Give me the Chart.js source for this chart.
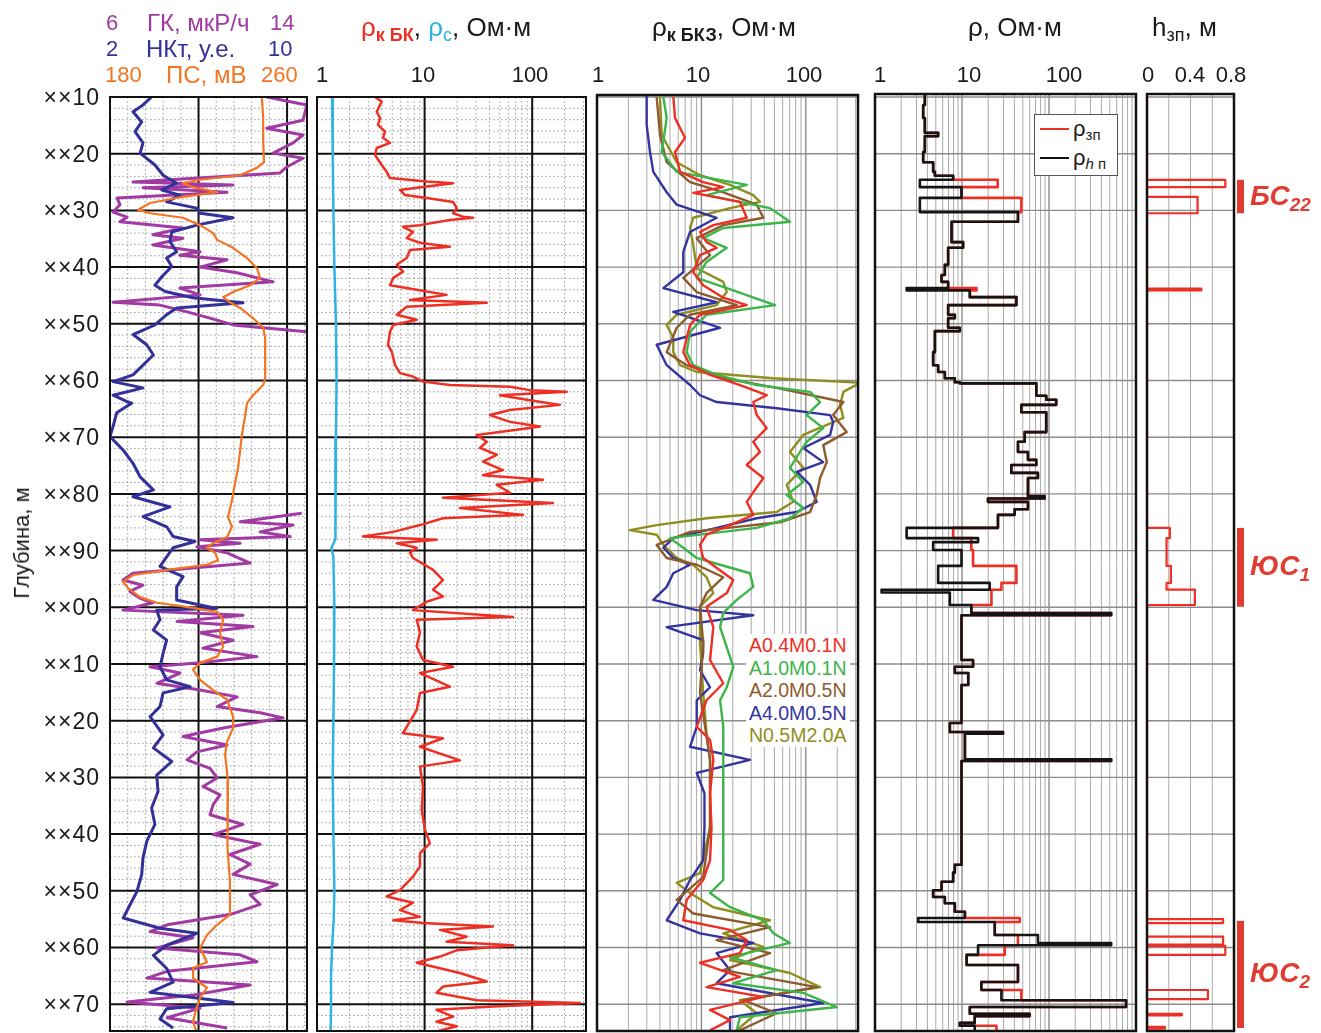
<!DOCTYPE html>
<html>
<head>
<meta charset="utf-8">
<title>Каротаж</title>
<script src="https://cdn.jsdelivr.net/npm/chart.js@4.4.1/dist/chart.umd.min.js"></script>
<style>
  html, body { margin: 0; padding: 0; background: #fff; }
  #wrap { position: relative; width: 1321px; height: 1033px; overflow: hidden;
          font-family: 'Liberation Sans', Arial, sans-serif; color: #1a1a1a; }
  canvas { position: absolute; top: 0; }
  .t { position: absolute; white-space: nowrap; font-size: 22px; line-height: 1; }
  .w { font-size: 24px; }
  .h { font-size: 26px; }
  .c { transform: translateX(-50%); }
  .t sub { font-size: 15px; vertical-align: -4px; line-height: 0; }
  .h sub { font-size: 18px; vertical-align: -5px; }
  .dl { position: absolute; left: 0; width: 100px; text-align: right; font-size: 23px;
        letter-spacing: 1px; line-height: 1; white-space: nowrap; color: #1a1a1a; }
  .fm { position: absolute; white-space: nowrap; font-size: 28px; line-height: 1;
        font-weight: bold; font-style: italic; color: #e03c31; }
  .fm sub { font-size: 19px; vertical-align: -6px; line-height: 0; }
</style>
</head>
<body>
<div id="wrap">
  <canvas id="c1" width="312" height="1033" style="left:0px"></canvas>
  <canvas id="c2" width="280" height="1033" style="left:312px"></canvas>
  <canvas id="c3" width="270" height="1033" style="left:592px"></canvas>
  <canvas id="c4" width="270" height="1033" style="left:870px"></canvas>
  <canvas id="c5" width="179" height="1033" style="left:1142px"></canvas>

  <!-- track 1 header -->
  <div class="t" style="left:106px;top:12px;color:#a13aa3">6</div>
  <div class="t w" style="left:147px;top:11px;color:#a13aa3">ГК, мкР/ч</div>
  <div class="t" style="left:270px;top:12px;color:#a13aa3">14</div>
  <div class="t" style="left:106px;top:38px;color:#34309a">2</div>
  <div class="t w" style="left:146px;top:37px;color:#34309a">НКт, у.е.</div>
  <div class="t" style="left:268px;top:38px;color:#34309a">10</div>
  <div class="t" style="left:105px;top:64px;color:#f47421">180</div>
  <div class="t w" style="left:166px;top:63px;color:#f47421">ПС, мВ</div>
  <div class="t" style="left:261px;top:64px;color:#f47421">260</div>

  <!-- track 2 header -->
  <div class="t h" style="left:361px;top:14px"><span style="color:#ee2f24">ρ<sub style="font-weight:bold">к БК</sub></span>, <span style="color:#2fb3e6">ρ<sub>с</sub></span>, Ом·м</div>
  <div class="t c" style="left:322px;top:64px">1</div>
  <div class="t c" style="left:423px;top:64px">10</div>
  <div class="t c" style="left:530px;top:64px">100</div>

  <!-- track 3 header -->
  <div class="t h" style="left:652px;top:14px">ρ<sub style="font-weight:bold">к БКЗ</sub>, Ом·м</div>
  <div class="t c" style="left:598px;top:64px">1</div>
  <div class="t c" style="left:698px;top:64px">10</div>
  <div class="t c" style="left:804px;top:64px">100</div>

  <!-- track 4 header -->
  <div class="t h" style="left:968px;top:14px">ρ, Ом·м</div>
  <div class="t c" style="left:880px;top:64px">1</div>
  <div class="t c" style="left:969px;top:64px">10</div>
  <div class="t c" style="left:1064px;top:64px">100</div>

  <!-- track 5 header -->
  <div class="t h" style="left:1152px;top:14px">h<sub>зп</sub>, м</div>
  <div class="t c" style="left:1148px;top:64px">0</div>
  <div class="t c" style="left:1190px;top:64px">0.4</div>
  <div class="t c" style="left:1231px;top:64px">0.8</div>

  <div class="t" style="left:22px;top:543px;font-size:22px;transform:translate(-50%,-50%) rotate(-90deg)">Глубина, м</div>

  <!-- BKZ probe legend -->
  <div style="position:absolute;left:746px;top:634px;background:#fff;padding:0 3px;font-size:19.5px;line-height:22.6px;white-space:nowrap">
    <div style="color:#ee2f24">A0.4M0.1N</div>
    <div style="color:#3cb54a">A1.0M0.1N</div>
    <div style="color:#8d5b2d">A2.0M0.5N</div>
    <div style="color:#3434a0">A4.0M0.5N</div>
    <div style="color:#8f8f1f">N0.5M2.0A</div>
  </div>

  <!-- resistivity legend -->
  <div style="position:absolute;left:1034px;top:114px;width:82px;height:60px;border:1px solid #555;background:#fff">
    <div style="position:absolute;left:5px;top:13px;width:29px;border-top:2px solid #ee2f24"></div>
    <div class="t" style="left:38px;top:3px;font-size:22px">ρ<sub>зп</sub></div>
    <div style="position:absolute;left:5px;top:42px;width:29px;border-top:2px solid #111"></div>
    <div class="t" style="left:38px;top:32px;font-size:22px">ρ<sub><i>h</i> п</sub></div>
  </div>

  <div id="depthLabels"></div>
  <div id="fmLabels"></div>
</div>

<script>
// ---------- depth axis ----------
const depthTicks = [10, 20, 30, 40, 50, 60, 70, 80, 90, 100, 110, 120, 130, 140, 150, 160, 170];
const depthBottom = 174.73;

// ---------- track 1: ГК, НКт, ПС ----------
const nktDepth = [10.0,11.4,12.6,14.4,16.1,18.1,19.9,22.0,23.8,25.2,26.4,27.3,28.5,29.6,30.5,31.3,32.6,33.8,35.5,37.3,38.4,39.9,41.7,43.2,44.3,45.4,46.3,47.2,48.4,50.2,51.9,53.7,55.5,57.3,59.0,60.2,61.3,62.6,63.7,64.0,65.7,68.1,69.9,72.3,74.6,77.0,79.3,80.5,82.3,84.0,85.8,87.5,88.4,89.5,91.1,92.8,94.6,96.4,98.7,100.2,100.5,102.2,104.0,105.8,108.1,110.5,112.8,114.0,115.1,117.5,119.3,122.5,124.8,127.2,129.6,132.5,135.4,138.3,141.3,144.2,147.2,150.2,152.5,154.8,156.6,157.5,159.6,161.4,163.7,166.1,167.9,169.7,170.8,172.6,174.2];
const nktValue = [3.88,3.49,3.04,3.43,3.13,3.49,3.36,4.03,4.40,5.01,4.34,5.16,4.56,5.92,6.07,7.56,5.92,4.79,4.71,5.01,4.56,4.79,4.34,4.03,4.49,5.75,8.01,5.01,4.56,4.03,3.04,3.66,3.96,3.49,3.04,2.14,3.49,2.14,2.75,2.98,2.30,2.14,2.00,2.60,3.04,3.36,3.96,3.04,4.71,3.49,4.56,4.85,5.84,4.85,4.56,4.26,5.30,5.01,5.01,6.82,4.11,4.26,3.96,4.56,4.40,4.26,4.56,5.62,4.40,4.26,3.81,4.40,3.96,4.79,4.11,4.17,3.88,4.03,3.66,3.49,3.43,3.21,2.90,2.60,4.26,5.92,4.56,3.96,4.56,4.85,3.81,7.56,4.56,4.26,4.85];

// ГК goes off scale between ~××51 and ~××83 (null = no trace)
const grDepth = [10.0,11.4,14.1,15.5,16.7,18.1,19.9,20.8,22.3,23.4,25.0,25.5,26.0,26.8,27.8,29.0,30.3,31.2,32.0,33.1,34.3,34.9,36.1,37.3,37.9,38.7,40.0,41.0,42.6,43.7,44.9,46.2,46.7,47.9,49.0,50.2,51.4,60.0,83.4,84.9,85.5,86.7,87.5,88.1,88.7,89.3,90.4,92.2,94.0,95.2,96.1,97.2,98.4,99.2,100.5,101.4,102.5,103.4,104.5,105.8,107.2,108.7,109.8,110.5,111.6,113.4,114.6,115.8,117.5,118.6,119.5,121.3,122.8,124.3,125.5,126.9,128.4,130.1,131.6,133.1,134.8,136.6,138.3,140.1,141.8,143.6,145.3,147.1,148.9,150.7,152.4,154.2,156.0,157.2,158.3,160.1,161.3,162.5,164.2,165.4,166.6,168.4,169.6,170.7,172.4,174.2];
const grValue = [13.08,14.89,14.72,13.08,14.72,14.27,13.37,14.72,14.0,13.68,7.04,11.56,7.49,11.29,6.32,6.45,6.14,6.77,6.45,9.30,7.94,9.30,7.94,10.07,9.16,11.29,10.07,11.74,13.37,9.16,10.07,6.14,8.26,9.48,10.52,11.56,14.9,null,14.66,11.88,14.27,12.78,14.14,10.07,11.88,9.93,11.29,12.33,7.04,6.59,7.49,6.90,7.36,7.94,6.59,12.01,9.03,12.46,10.07,11.56,10.20,12.64,10.07,7.81,9.16,8.12,10.07,11.74,10.84,12.78,13.82,11.11,9.30,11.29,9.93,9.48,10.52,10.84,10.20,10.97,10.66,10.52,12.01,10.66,12.78,11.42,12.33,11.56,13.55,12.33,12.78,11.42,8.58,7.81,9.75,8.12,11.88,12.64,8.58,7.67,12.33,9.75,6.77,10.07,8.58,11.29];

const psDepth = [10.0,13.7,17.6,21.5,22.5,23.8,24.6,25.2,25.9,26.8,27.6,28.7,29.9,30.5,31.3,32.6,34.0,35.2,36.6,38.4,40.2,41.9,43.2,44.4,45.3,46.2,47.2,49.0,50.7,52.5,59.6,60.8,62.6,64.0,66.4,69.3,72.3,75.3,78.1,81.1,84.1,85.8,87.6,88.7,89.5,90.4,91.7,92.5,93.4,94.3,95.5,96.6,98.2,99.2,100.1,100.8,102.2,104.5,107.0,108.7,109.8,111.0,112.8,114.6,116.3,119.3,121.3,123.7,126.0,130.8,136.6,142.5,148.4,154.2,156.0,157.8,160.1,162.6,163.6,165.4,167.1,168.9,170.7,173.1,174.9];
const psValue = [248.6,249.2,249.2,249.6,246.3,238.8,220.7,213.0,217.5,228.4,213.0,198.1,192.7,198.1,213.0,220.7,226.6,228.4,235.6,241.9,246.4,247.8,243.3,235.6,231.1,234.2,238.8,244.6,249.2,250.1,250.1,249.2,244.6,241.9,241.0,239.7,238.8,237.9,236.5,235.1,233.3,235.1,232.9,226.6,223.8,227.5,228.8,223.8,205.8,190.4,185.9,188.1,193.6,201.2,217.5,228.4,231.1,229.7,231.1,228.4,220.7,217.5,220.7,226.6,232.9,235.6,235.6,232.9,232.0,233.3,232.9,233.3,234.2,234.2,228.4,223.8,220.7,223.8,217.5,217.5,223.8,220.7,219.1,217.5,219.1];

// ---------- track 2: ρк БК, ρс ----------
const bkDepth = [10.0,10.8,12.6,13.7,14.9,16.1,17.2,18.1,19.0,20.2,22.0,23.2,24.3,24.9,25.2,25.8,26.4,27.3,27.8,28.5,29.6,30.5,31.1,31.3,31.7,32.6,32.9,33.8,34.9,35.7,36.4,37.0,38.4,39.6,40.8,41.9,43.2,44.0,44.9,45.8,46.3,47.0,48.4,49.3,50.2,51.4,53.7,54.9,57.3,58.7,59.3,60.2,60.8,61.1,61.7,62.0,62.6,63.4,64.3,65.2,66.1,67.3,68.1,68.7,69.6,70.8,71.9,73.1,74.3,75.8,76.7,77.5,78.4,79.8,80.7,81.6,82.5,83.7,84.3,85.5,86.7,87.5,88.1,88.7,89.5,90.4,91.3,93.4,95.2,96.9,98.1,99.0,100.5,101.7,102.2,104.5,106.9,109.3,110.5,111.6,114.0,115.1,118.1,121.1,122.2,123.1,124.6,127.0,128.1,131.6,135.8,139.3,141.6,143.4,145.7,147.5,149.9,151.0,152.1,153.4,154.6,155.2,155.7,156.3,156.9,158.1,159.0,159.6,160.5,161.6,162.7,164.5,166.0,166.9,168.0,169.3,169.8,170.4,171.0,172.2,173.1,173.9,174.8];
const bkValue = [3.46,3.99,3.59,3.85,3.69,4.29,4.10,4.77,3.59,3.46,3.99,4.44,4.77,10.5,18.4,10.5,5.91,6.58,10.5,18.4,19.9,18.4,22.7,28.2,17.2,9.06,6.30,7.80,6.82,9.06,17.2,7.32,6.82,5.51,6.30,5.12,4.77,8.45,16.0,7.32,37.8,6.82,5.51,8.45,5.12,4.77,4.57,4.95,5.31,5.91,7.80,9.67,17.2,62.2,95.4,209,50.2,88.9,181,62.2,40.5,62.2,118,71.8,30.5,37.8,32.7,46.8,34.9,53.5,34.9,126,46.8,62.2,14.8,156,21.3,82.1,14.8,9.06,5.12,2.67,12.9,5.51,8.45,7.32,7.80,12.0,14.8,12.0,14.8,10.5,7.80,66.3,8.45,9.06,8.45,9.67,18.4,9.06,17.2,9.06,8.45,6.82,6.30,14.8,9.06,21.3,9.06,9.67,9.40,10.1,11.2,9.06,9.06,7.80,5.91,4.44,7.80,5.91,9.06,5.12,9.67,43.2,13.9,24.6,16.0,66.3,19.9,13.9,8.45,21.3,37.8,14.8,12.9,30.5,278,43.2,12.9,18.4,12.9,19.9,12.9];
const rcDepth = [10,20,30,40,50,60,70,80,85,88,89.6,91,100,110,120,130,140,150,155,160,165,170,175];
const rcValue = [1.38,1.40,1.42,1.45,1.50,1.52,1.50,1.47,1.48,1.50,1.36,1.42,1.45,1.44,1.42,1.40,1.42,1.45,1.43,1.38,1.35,1.35,1.34];

// ---------- track 3: ρк БКЗ, five probes ----------
const a04Depth = [10.0,13.7,17.2,19.7,23.2,25.0,25.9,26.9,28.5,29.9,31.3,32.6,33.8,35.6,36.6,37.9,40.9,43.2,45.4,46.7,48.4,50.2,52.5,55.0,57.3,59.0,60.8,62.6,63.8,66.1,68.4,70.8,72.6,74.9,77.2,79.7,81.4,83.7,85.5,87.2,89.0,91.3,95.2,97.5,99.9,103.5,109.3,113.4,116.4,121.1,123.4,126.9,132.8,138.8,144.6,148.1,151.6,155.2,156.9,158.7,161.0,162.7,165.2,167.0,168.7,171.0,172.8,174.6];
const a04Value = [5.38,5.59,6.96,5.59,6.24,10.4,16.2,8.36,23.4,25.2,27.2,13.0,9.70,11.2,14.0,9.70,8.36,10.4,16.2,27.2,9.70,7.78,7.23,6.71,7.78,12.1,23.4,42.2,31.4,33.9,42.2,31.4,36.4,27.2,39.2,31.4,27.2,31.4,18.8,11.2,9.70,10.4,20.2,17.5,11.2,13.0,12.1,16.2,11.2,9.02,12.1,13.0,12.1,12.5,12.1,10.4,7.23,6.71,18.8,27.2,23.4,9.70,23.4,11.2,39.2,12.1,18.8,12.1];
const a10Depth = [10.0,13.7,19.7,23.2,25.5,27.3,29.6,32.0,33.1,34.9,36.6,39.1,41.9,43.7,46.7,48.4,51.4,55.0,57.3,59.0,60.8,62.0,63.8,66.1,68.4,70.8,72.6,75.4,77.9,80.2,82.5,84.3,86.0,87.8,89.5,91.3,92.5,94.0,96.4,98.7,101.0,103.5,110.5,114.1,116.4,121.1,126.9,138.8,148.1,150.4,152.9,155.2,157.5,159.2,161.7,164.0,166.3,168.0,170.5,172.3,174.6];
const a10Value = [4.32,4.65,4.17,5.80,27.2,11.2,45.4,70.6,16.2,10.4,17.5,11.2,9.02,17.5,50.7,11.2,7.78,7.23,8.36,14.0,33.9,110,137,102,147,102,88,70.6,94.6,65.6,94.6,70.6,33.9,5.0,6.71,9.0,15.1,29.2,31.4,21.8,16.2,15.1,20.2,17.5,15.1,16.2,16.2,16.2,16.2,12.1,18.8,39.2,48.9,70.6,18.8,52.6,20.2,94.6,198,23.4,21.8];
const a20Depth = [10.0,16.7,21.5,25.0,26.8,29.0,31.3,32.6,34.9,37.9,41.9,44.4,46.7,48.4,50.7,55.0,57.3,59.6,61.3,63.8,66.1,69.1,71.4,74.4,77.2,80.2,83.2,85.0,86.7,89.0,91.3,92.5,94.7,97.5,99.9,106.3,115.1,126.9,138.8,147.6,151.6,154.0,156.4,158.7,161.0,164.0,167.0,169.3,171.6,174.6];
const a20Value = [3.73,4.01,4.65,7.78,16.2,33.9,39.2,16.2,9.02,12.1,6.71,9.02,21.8,7.78,5.80,4.65,7.23,16.2,52.6,229,183,246,147,159,137,127,110,56.6,7.78,3.73,4.65,9.02,16.2,11.2,9.70,10.4,9.70,12.1,12.1,10.4,5.80,8.36,45.4,14.0,45.4,16.2,127,25.2,52.6,23.4];
const a40Depth = [10.0,14.9,19.7,23.2,26.8,29.0,31.3,33.8,37.3,40.9,43.7,46.2,47.9,50.7,53.7,57.3,60.8,62.6,63.8,64.9,66.1,67.3,69.6,71.9,74.4,76.1,78.4,81.4,83.2,84.3,86.0,87.8,89.5,91.3,92.5,94.0,96.4,98.7,100.5,101.4,103.5,105.8,108.1,111.1,114.1,116.4,121.1,124.6,126.9,129.2,132.8,138.8,144.6,148.1,151.6,155.2,157.5,159.2,161.0,164.0,166.3,169.8,172.3,174.6];
const a40Value = [2.99,2.99,3.22,3.46,4.65,5.80,14.0,7.78,6.71,6.71,4.32,14.0,5.38,15.1,3.73,4.65,7.78,9.70,14.0,52.6,171,183,171,94.6,147,81.9,110,127,81.9,33.9,14.0,5.38,4.32,5.38,7.78,5.38,4.65,3.46,9.02,31.4,4.65,10.4,10.4,9.70,12.1,9.02,9.02,7.78,29.2,9.02,10.7,10.7,10.4,7.78,6.24,4.65,9.70,31.4,14.0,18.8,14.0,147,18.8,18.8];
const n05Depth = [10.0,16.7,21.5,23.8,25.5,27.3,28.5,29.6,31.3,33.1,36.1,40.2,42.6,44.4,46.7,48.4,50.2,52.5,55.0,57.3,58.5,59.6,60.4,62.0,64.3,66.6,69.6,72.6,75.4,78.4,81.4,83.2,84.3,85.5,86.4,87.2,89.0,91.3,92.5,94.7,97.5,99.9,106.3,115.1,122.2,126.9,138.8,146.9,148.6,150.4,152.9,155.2,157.5,159.9,162.2,164.5,167.0,169.3,171.6,174.6];
const n05Value = [4.01,4.17,5.80,9.70,18.8,31.4,36.4,18.8,8.36,7.78,8.36,9.02,16.2,17.5,14.0,5.80,4.65,5.38,5.38,6.24,9.02,48.9,330,229,213,229,94.6,70.6,94.6,65.6,75.9,52.6,11.2,3.73,2.07,3.73,4.32,5.80,8.36,11.2,13.0,9.70,9.70,10.4,11.2,12.1,12.1,9.70,5.80,7.78,13.0,45.4,16.2,39.2,18.8,70.6,137,23.4,33.9,21.8];

// ---------- track 4: interpreted ρзп / ρhп (layer tops) ----------
const rhoTop = [9.4,11.4,13.7,16.3,16.9,19.7,21.5,23.2,23.9,24.6,25.9,27.8,30.3,32.0,35.6,36.6,39.6,41.4,42.6,43.7,44.1,45.3,46.7,48.4,49.0,50.7,51.3,55.0,57.3,58.5,59.6,60.3,60.5,62.7,63.4,64.3,65.6,69.1,70.8,72.6,74.0,74.9,76.3,77.2,80.4,80.8,81.4,82.7,83.7,86.0,87.8,88.5,89.9,92.7,95.7,96.9,97.4,99.6,101.0,101.4,109.3,110.5,111.6,113.7,120.4,122.0,122.3,126.8,127.1,145.4,146.8,148.4,149.9,151.1,152.2,153.7,154.8,155.5,157.8,159.2,159.6,161.3,163.1,166.1,167.5,169.3,170.5,171.7,172.1,173.3,173.8];
const rhpValue = [3.74,3.58,3.74,5.32,3.74,3.58,4.66,4.88,7.91,3.28,9.87,3.28,44.0,7.59,10.3,6.93,6.35,5.82,6.93,2.31,12.3,42.2,6.93,8.27,6.93,9.44,4.88,4.66,5.32,6.35,8.27,9.44,71.5,93.1,121,48.1,93.1,52.5,44.0,57.3,71.5,36.9,74.6,57.3,89.1,19.9,57.3,40.3,25.9,2.31,15.3,4.66,9.87,5.32,20.8,1.19,7.25,12.8,518,9.87,13.4,8.27,11.8,9.87,7.25,29.6,10.8,518,9.87,8.27,7.91,5.82,4.66,6.35,8.27,10.8,3.14,23.8,74.6,518,15.3,11.3,44.0,16.7,28.4,769,12.3,59.9,14.0,9.44,14.0];
const rzpValue = [3.74,3.58,3.74,5.32,3.74,3.58,4.66,4.88,7.91,25.7,9.87,48.1,44.0,7.59,10.3,6.93,6.35,5.82,6.93,14.7,12.3,42.2,6.93,8.27,6.93,9.44,4.88,4.66,5.32,6.35,8.27,9.44,71.5,93.1,121,48.1,93.1,52.5,44.0,57.3,71.5,36.9,74.6,57.3,89.1,19.9,57.3,40.3,25.9,7.91,12.8,12.8,13.4,42.2,28.4,21.8,21.8,12.8,518,9.87,13.4,8.27,11.8,9.87,7.25,29.6,10.8,518,9.87,8.27,7.91,5.82,4.66,6.35,8.27,10.8,46.0,23.8,44.0,44.0,31.0,11.3,44.0,16.7,48.1,769,12.3,59.9,14.0,9.44,24.9];

// ---------- track 5: invaded zone depth hзп ----------
const hTop = [9.4,24.6,25.9,27.6,30.5,43.8,44.1,86.0,87.8,92.7,95.7,96.9,99.6,155.0,155.7,158.1,159.5,159.7,161.3,167.5,169.1,171.7,172.0,174.0,174.3];
const hValue = [0,0.72,0,0.465,0,0.5,0,0.21,0.18,0.22,0.18,0.44,0,0.70,0,0.70,0,0.72,0,0.56,0,0.32,0,0.165,0];

// ---------- reservoir intervals ----------
const fmName = ['БС', 'ЮС', 'ЮС'];
const fmIndex = ['22', '1', '2'];
const fmTop = [24.6, 86.0, 155.3];
const fmBottom = [30.5, 99.9, 174.2];

// ---------- helpers ----------
const series = (depth, value) => depth.map((d, i) => ({ x: value[i], y: d }));
const steps = (top, value) => series(top, value).concat([{ x: value[value.length - 1], y: depthBottom }]);

function curve(data, color, width, xAxisID, extra) {
  return Object.assign({
    data, xAxisID, yAxisID: 'y', borderColor: color, backgroundColor: color,
    borderWidth: width, pointRadius: 0, showLine: true, fill: false, tension: 0,
    spanGaps: false, borderJoinStyle: 'round'
  }, extra || {});
}

const LOG_MINOR = [2,3,4,5,6,7,8,9,20,30,40,50,60,70,80,90,200,300,400,500,600,700,800,900];

// grid + frame drawn through each track's own scales
const wellGrid = {
  id: 'wellGrid',
  beforeDatasetsDraw(chart, args, o) {
    if (!o || !o.x) return;
    const ctx = chart.ctx, a = chart.chartArea;
    const xs = chart.scales[o.x], ys = chart.scales.y;
    const vline = (v, color, w, dash) => {
      const p = xs.getPixelForValue(v);
      if (p < a.left + 1 || p > a.right - 1) return;
      ctx.beginPath(); ctx.setLineDash(dash || []); ctx.strokeStyle = color; ctx.lineWidth = w;
      ctx.moveTo(p, a.top); ctx.lineTo(p, a.bottom); ctx.stroke();
    };
    const hline = (d, color, w, dash) => {
      const p = ys.getPixelForValue(d);
      if (p < a.top + 1 || p > a.bottom - 1) return;
      ctx.beginPath(); ctx.setLineDash(dash || []); ctx.strokeStyle = color; ctx.lineWidth = w;
      ctx.moveTo(a.left, p); ctx.lineTo(a.right, p); ctx.stroke();
    };
    ctx.save();
    (o.xMinor || []).forEach(v => vline(v, o.minorColor, 1, o.minorDash));
    if (o.yMinor) {
      for (let d = Math.ceil(ys.min / o.yMinor) * o.yMinor; d <= ys.max; d += o.yMinor) {
        if (d % o.yMajor !== 0) hline(d, o.minorColor, 1, o.minorDash);
      }
    }
    (o.xMajor || []).forEach(v => vline(v, o.majorColor, o.majorWidth));
    for (let d = Math.ceil(ys.min / o.yMajor) * o.yMajor; d <= ys.max; d += o.yMajor) {
      hline(d, o.majorColor, o.majorWidth);
    }
    ctx.restore();
  },
  afterDatasetsDraw(chart, args, o) {
    if (!o || !o.x) return;
    const ctx = chart.ctx, a = chart.chartArea;
    ctx.save();
    ctx.strokeStyle = '#111'; ctx.lineWidth = o.frame || 2; ctx.setLineDash([]);
    ctx.strokeRect(a.left, a.top, a.right - a.left, a.bottom - a.top);
    ctx.restore();
  }
};

// red bars that mark the reservoir intervals right of the last track
const formationBars = {
  id: 'formationBars',
  afterDraw(chart, args, o) {
    if (!o || !o.top) return;
    const ctx = chart.ctx, a = chart.chartArea, ys = chart.scales.y;
    ctx.save();
    ctx.fillStyle = o.color;
    o.top.forEach((t, i) => {
      const y0 = ys.getPixelForValue(t), y1 = ys.getPixelForValue(o.bottom[i]);
      ctx.fillRect(a.right + 3, y0, 7, y1 - y0);
    });
    ctx.restore();
  }
};

Chart.register(wellGrid, formationBars);
Chart.defaults.font.family = "'Liberation Sans', Arial, sans-serif";
Chart.defaults.animation = false;
Chart.defaults.events = [];
Chart.defaults.plugins.legend.display = false;
Chart.defaults.plugins.tooltip.enabled = false;

function hiddenDepth(min) {
  return { type: 'linear', reverse: true, min, max: depthBottom, display: false };
}
function baseOptions(padding, scales, plugins) {
  return {
    responsive: false, maintainAspectRatio: false, devicePixelRatio: 1,
    layout: { padding }, scales, plugins: Object.assign({ legend: { display: false } }, plugins)
  };
}

// track 1
const c1 = new Chart(document.getElementById('c1'), {
  type: 'scatter',
  data: { datasets: [
    curve(series(psDepth, psValue), '#f47421', 2.2, 'xPS'),
    curve(series(nktDepth, nktValue), '#34309a', 3, 'xNK'),
    curve(series(grDepth, grValue), '#a13aa3', 3, 'xGR')
  ]},
  options: baseOptions({ left: 110, right: 5, top: 97, bottom: 2 }, {
    y: hiddenDepth(10),
    xGR: { type: 'linear', min: 6, max: 14.9, display: false },
    xNK: { type: 'linear', min: 2, max: 10.9, display: false },
    xPS: { type: 'linear', min: 180, max: 269, display: false }
  }, {
    wellGrid: { x: 'xGR', xMinor: [6.8,7.6,8.4,9.2,10.8,11.6,12.4,13.2,14.8], xMajor: [10, 14],
                yMinor: 2, yMajor: 10, minorColor: '#9a9a9a', minorDash: [1.5, 2.5],
                majorColor: '#111', majorWidth: 2 }
  })
});

// track 2
new Chart(document.getElementById('c2'), {
  type: 'scatter',
  data: { datasets: [
    curve(series(bkDepth, bkValue), '#ee2f24', 2.5, 'x'),
    curve(series(rcDepth, rcValue), '#2fb3e6', 2.5, 'x')
  ]},
  options: baseOptions({ left: 5, right: 6, top: 97, bottom: 2 }, {
    x: { type: 'logarithmic', min: 1, max: 316.2, display: false },
    y: hiddenDepth(10)
  }, {
    wellGrid: { x: 'x', xMinor: LOG_MINOR, xMajor: [10, 100], yMinor: 2, yMajor: 10,
                minorColor: '#9a9a9a', minorDash: [1.5, 2.5], majorColor: '#111', majorWidth: 2 }
  })
});

// track 3
new Chart(document.getElementById('c3'), {
  type: 'scatter',
  data: { datasets: [
    curve(series(a04Depth, a04Value), '#ee2f24', 2.4, 'x'),
    curve(series(a10Depth, a10Value), '#3cb54a', 2.4, 'x'),
    curve(series(a20Depth, a20Value), '#8d5b2d', 2.4, 'x'),
    curve(series(a40Depth, a40Value), '#3434a0', 2.4, 'x'),
    curve(series(n05Depth, n05Value), '#8f8f1f', 2.4, 'x')
  ]},
  options: baseOptions({ left: 5, right: 4, top: 95, bottom: 2 }, {
    x: { type: 'logarithmic', min: 1, max: 316.2, display: false },
    y: hiddenDepth(10 - 2 / 5.67)
  }, {
    wellGrid: { x: 'x', xMinor: LOG_MINOR, xMajor: [10, 100], yMajor: 10,
                minorColor: '#aaaaaa', majorColor: '#8c8c8c', majorWidth: 1.4, frame: 2.5 }
  })
});

// track 4
new Chart(document.getElementById('c4'), {
  type: 'scatter',
  data: { datasets: [
    curve(steps(rhoTop, rhpValue), '#141414', 2.6, 'x', { stepped: 'after' }),
    curve(steps(rhoTop, rzpValue), '#ee2f24', 2.6, 'x', { stepped: 'after' })
  ]},
  options: baseOptions({ left: 5, right: 4, top: 94, bottom: 2 }, {
    x: { type: 'logarithmic', min: 1, max: 1000, display: false },
    y: hiddenDepth(10 - 3 / 5.67)
  }, {
    wellGrid: { x: 'x', xMinor: LOG_MINOR, xMajor: [10, 100], yMajor: 10,
                minorColor: '#aaaaaa', majorColor: '#8c8c8c', majorWidth: 1.4, frame: 2.5 }
  })
});

// track 5
const c5 = new Chart(document.getElementById('c5'), {
  type: 'scatter',
  data: { datasets: [
    curve(steps(hTop, hValue), '#ee2f24', 2.2, 'x', { stepped: 'after' })
  ]},
  options: baseOptions({ left: 5, right: 87, top: 94, bottom: 2 }, {
    x: { type: 'linear', min: 0, max: 0.8, display: false },
    y: hiddenDepth(10 - 3 / 5.67)
  }, {
    wellGrid: { x: 'x', xMinor: [0.2, 0.4, 0.6], yMajor: 10,
                minorColor: '#aaaaaa', majorColor: '#8c8c8c', majorWidth: 1.4, frame: 2.5 },
    formationBars: { top: fmTop, bottom: fmBottom, color: '#e03c31' }
  })
});

// depth labels positioned from the depth scale of track 1
const dl = document.getElementById('depthLabels');
depthTicks.forEach(v => {
  const el = document.createElement('div');
  el.className = 'dl';
  el.style.top = (c1.scales.y.getPixelForValue(v) - 11) + 'px';
  el.textContent = '××' + String(v % 100).padStart(2, '0');
  dl.appendChild(el);
});

// reservoir names placed next to their bars
const holder = document.getElementById('fmLabels');
fmName.forEach((n, i) => {
  const yMid = c5.scales.y.getPixelForValue((fmTop[i] + fmBottom[i]) / 2);
  const el = document.createElement('div');
  el.className = 'fm';
  el.style.left = '1250px';
  el.style.top = (yMid - 15) + 'px';
  el.innerHTML = n + '<sub>' + fmIndex[i] + '</sub>';
  holder.appendChild(el);
});
</script>
</body>
</html>
